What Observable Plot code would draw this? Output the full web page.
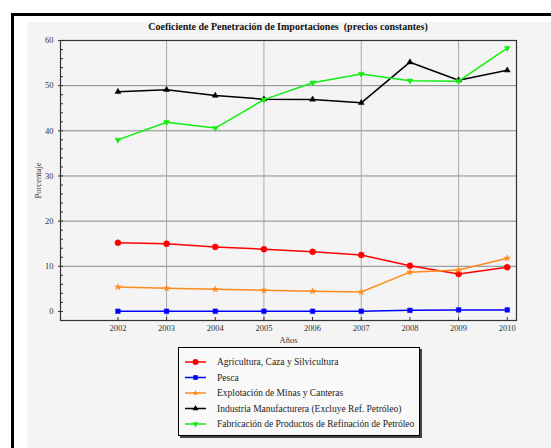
<!DOCTYPE html>
<html>
<head>
<meta charset="utf-8">
<script src="https://cdn.jsdelivr.net/npm/d3@7"></script>
<script src="https://cdn.jsdelivr.net/npm/@observablehq/plot@0.6"></script>
<style>
  html, body { margin: 0; padding: 0; background: #fff; overflow: hidden; }
  #page { position: relative; width: 551px; height: 448px; overflow: hidden; background: #fff; font-family: "Liberation Serif", "DejaVu Serif", "Times New Roman", serif; }
  #frame { position: absolute; left: 11px; top: 13px; width: 700px; height: 600px; border-left: 3px solid #000; border-top: 3px solid #000; }
  #bg { position: absolute; left: 27px; top: 22px; width: 524px; height: 426px; background: #f4f4f4; }
  #chart { position: absolute; left: 0; top: 0; }
  #chart svg, #chart svg text, #legend text { font-family: "Liberation Serif", "DejaVu Serif", "Times New Roman", serif; }
  #title { position: absolute; left: 0; width: 576px; top: 21px; text-align: center; font-weight: bold; font-size: 10px; color: #111; white-space: pre; }
  #legend { position: absolute; left: 178px; top: 347px; width: 240px; height: 87px; border: 1px solid #000; background: #f9f9f9; box-shadow: 2px 2px 0 #444; }
</style>
</head>
<body>
<div id="page">
  <div id="frame"></div>
  <div id="bg"></div>
  <div id="chart"></div>
  <div id="title">Coeficiente de Penetración de Importaciones  (precios constantes)</div>
  <div id="legend"></div>
</div>
<script>
const years = [2002, 2003, 2004, 2005, 2006, 2007, 2008, 2009, 2010];
const seriesNames = [
  "Agricultura, Caza y Silvicultura",
  "Pesca",
  "Explotación de Minas y Canteras",
  "Industria Manufacturera (Excluye Ref. Petróleo)",
  "Fabricación de Productos de Refinación de Petróleo"
];
const agricultura = [15.2, 15.0, 14.3, 13.8, 13.2, 12.5, 10.1, 8.3, 9.8];
const pesca = [0.05, 0.05, 0.05, 0.05, 0.05, 0.05, 0.25, 0.35, 0.35];
const minas = [5.4, 5.15, 4.9, 4.7, 4.5, 4.3, 8.7, 9.2, 11.8];
const industria = [48.65, 49.1, 47.8, 47.0, 46.95, 46.2, 55.2, 51.2, 53.4];
const refinacion = [38.0, 41.9, 40.6, 46.9, 50.65, 52.6, 51.1, 51.0, 58.3];
const yTicks = [0, 10, 20, 30, 40, 50, 60];

const triangleDown = {
  draw(context, size) {
    const y = -Math.sqrt(size / (Math.sqrt(3) * 3));
    context.moveTo(0, -y * 2);
    context.lineTo(-Math.sqrt(3) * y, y);
    context.lineTo(Math.sqrt(3) * y, y);
    context.closePath();
  }
};

const styles = [
  {color: "#ff0000", symbol: d3.symbolCircle, r: 3},
  {color: "#0000ff", symbol: d3.symbolSquare, r: 2.6},
  {color: "#ff8a1c", symbol: d3.symbolStar, r: 2},
  {color: "#000000", symbol: d3.symbolTriangle, r: 2.2},
  {color: "#11ee11", symbol: triangleDown, r: 2.2}
];
const allValues = [agricultura, pesca, minas, industria, refinacion];

const rows = [];
allValues.forEach((vals, i) => {
  vals.forEach((v, j) => rows.push({series: seriesNames[i], idx: i, year: years[j], value: v}));
});

const marks = [
  Plot.ruleY([10, 20, 30, 40, 50], {stroke: "#888", strokeWidth: 1}),
  Plot.ruleX([2003, 2005, 2007, 2009], {stroke: "#aaa", strokeWidth: 1}),
  Plot.frame({stroke: "#333", strokeWidth: 1.2}),
  Plot.axisY({ticks: yTicks, tickSize: 2, tickPadding: 5, fontSize: 8.5, label: "Porcentaje", labelAnchor: "center", labelOffset: 26, labelArrow: "none", fill: "#333"}),
  Plot.axisY({ticks: d3.range(0, 61, 2), tickSize: -3, text: null, label: null}),
  Plot.axisX({ticks: years, tickSize: -3, text: null, label: null}),
  Plot.axisX({ticks: years, tickSize: 0, tickPadding: 4, tickFormat: d => String(d), fontSize: 8.5, label: "Años", labelAnchor: "center", labelOffset: 22, labelArrow: "none", fill: "#333"})
];
styles.forEach((s, i) => {
  const data = rows.filter(d => d.idx === i);
  marks.push(Plot.line(data, {x: "year", y: "value", stroke: s.color, strokeWidth: 1.5}));
  marks.push(Plot.dot(data, {x: "year", y: "value", fill: s.color, stroke: s.color, strokeWidth: 0.5, symbol: () => s.symbol, r: s.r}));
});

const chart = Plot.plot({
  width: 551,
  height: 448,
  marginLeft: 60,
  marginRight: 35,
  marginTop: 40,
  marginBottom: 128,
  style: {fontFamily: "'Liberation Serif', 'DejaVu Serif', serif", fontSize: "8.5px", background: "transparent", color: "#333"},
  x: {domain: [2000.82, 2010.19]},
  y: {domain: [-2, 60]},
  symbol: {type: "identity"},
  marks
});
document.getElementById("chart").appendChild(chart);

// legend
const legend = d3.select("#legend");
const svg = legend.append("svg").attr("width", 240).attr("height", 87)
  .style("position", "absolute").style("left", 0).style("top", 0);
const rowY = [14, 29.5, 45, 60.5, 76];
styles.forEach((s, i) => {
  const g = svg.append("g").attr("transform", `translate(0,${rowY[i]})`);
  g.append("line").attr("x1", 6).attr("x2", 27).attr("stroke", s.color).attr("stroke-width", 1.5);
  g.append("path").attr("transform", "translate(16.5,0)")
    .attr("d", d3.symbol(s.symbol, Math.PI * s.r * s.r)()).attr("fill", s.color);
  g.append("text").attr("x", 38).attr("y", 0).attr("dy", "0.32em")
    .attr("font-size", 9.5).attr("fill", "#222")
    .text(seriesNames[i]);
});
</script>
</body>
</html>
